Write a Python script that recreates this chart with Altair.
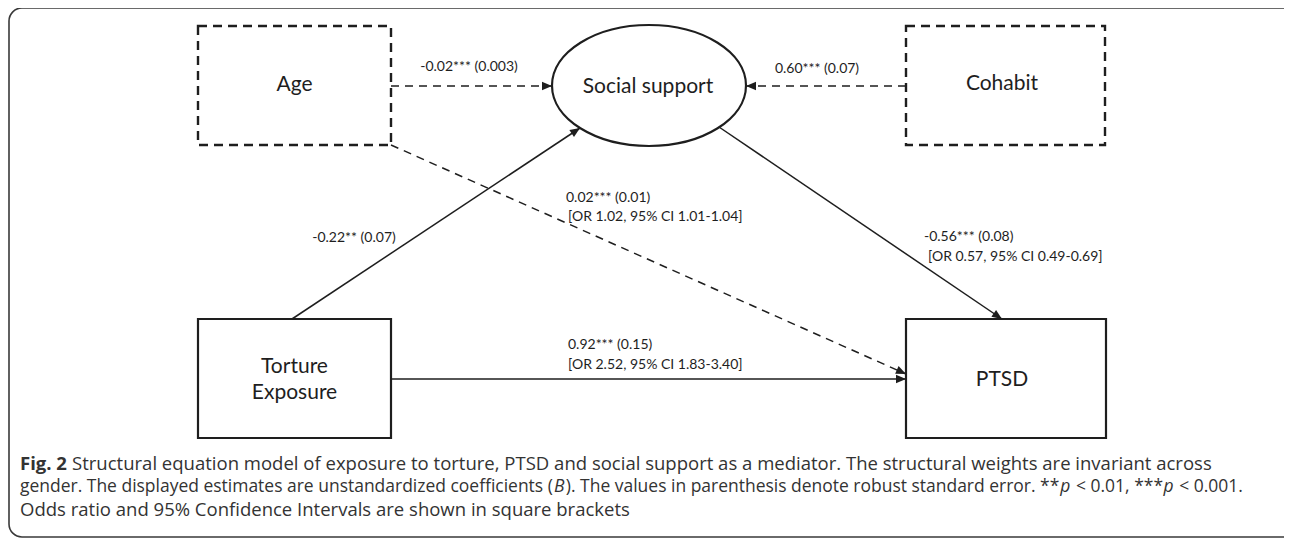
import math
import altair as alt
import pandas as pd

# ---------------- canvas ----------------
W, H = 1276, 530          # plot area (page coords 8..1284, 8..538)
PX0, PY0 = 8, 8
FONT = "Lato"
CAP_FONT = "Open Sans"
INK = "#1e1e1e"

# ---------------- observed variables (rectangles) ----------------
box_name   = ["Age", "Cohabit", "Torture Exposure", "PTSD"]
box_left   = [198, 906, 198, 906]
box_right  = [391, 1105, 391, 1106]
box_top    = [26, 26, 319, 319]
box_bottom = [145, 145, 438, 438]
box_dashed = [True, True, False, False]

# ---------------- latent variable (ellipse) ----------------
latent_name = ["Social support"]
latent_cx = [649]
latent_cy = [85.5]
latent_rx = 97
latent_ry = 60.5

# ---------------- node labels ----------------
node_text   = ["Age", "Social support", "Cohabit", "Torture", "Exposure", "PTSD"]
node_text_x = [294.5, 648, 1002, 294.5, 294.5, 1002]
node_text_y = [85, 87, 84, 367, 393, 380]

# ---------------- paths ----------------
edge_from   = ["Age", "Cohabit", "Torture Exposure", "Social support", "Age", "Torture Exposure"]
edge_to     = ["Social support", "Social support", "Social support", "PTSD", "PTSD", "PTSD"]
edge_x1     = [391, 906, 292, 719, 391, 391]
edge_y1     = [86, 86, 319, 127, 145, 379]
edge_x2     = [552, 746, 580, 1002, 906, 906]
edge_y2     = [86, 86, 128, 319, 374, 379]
edge_dashed = [True, True, False, False, True, False]

# ---------------- path estimates ----------------
coef_text  = ["-0.02*** (0.003)", "0.60*** (0.07)", "-0.22** (0.07)",
              "0.02*** (0.01)", "[OR 1.02, 95% CI 1.01-1.04]",
              "-0.56*** (0.08)", "[OR 0.57, 95% CI 0.49-0.69]",
              "0.92*** (0.15)", "[OR 2.52, 95% CI 1.83-3.40]"]
coef_x     = [469, 817, 354, 566, 568, 924, 928, 568, 568]
coef_y     = [67, 69, 238, 198, 217, 237, 257, 345, 365]
coef_align = ["center", "center", "center", "left", "left", "left", "left", "left", "left"]

# ---------------- caption (runs of text, in reading order) ----------------
cap_line  = [1, 1, 2, 2, 2, 2, 2, 2, 2, 3]
cap_text  = ["Fig. 2",
             "Structural equation model of exposure to torture, PTSD and social support as a mediator. The structural weights are invariant across",
             "gender. The displayed estimates are unstandardized coefficients (", "B",
             "). The values in parenthesis denote robust standard error. **", "p",
             "< 0.01, ***", "p", "< 0.001.",
             "Odds ratio and 95% Confidence Intervals are shown in square brackets"]
cap_style = ["bold", "normal", "normal", "italic", "normal", "italic", "normal", "italic", "normal", "normal"]
cap_space_before = [False, True, False, False, False, False, True, False, True, False]
cap_line_y = {1: 464, 2: 487, 3: 510}
cap_left = 20
cap_line_right = {1: 1213, 2: 1243}

# approximate advance widths of the caption font (units per 2048 em)
ADV = {" ": 532, "(": 606, ")": 606, "*": 1128, ",": 502, "-": 659, ".": 545, "<": 1171,
       "%": 1686, "[": 674, "]": 674,
       "A": 1296, "B": 1327, "C": 1292, "D": 1493, "F": 1057, "I": 571, "O": 1595,
       "P": 1233, "S": 1124, "T": 1116,
       "a": 1139, "b": 1255, "c": 975, "d": 1255, "e": 1149, "f": 694, "g": 1122,
       "h": 1257, "i": 518, "j": 518, "k": 1075, "l": 518, "m": 1905, "n": 1257,
       "o": 1237, "p": 1255, "q": 1255, "r": 836, "s": 977, "t": 723, "u": 1257,
       "v": 1026, "w": 1593, "x": 1073, "y": 1028, "z": 977}
for d in "0123456789":
    ADV[d] = 1171
BOLD_ADV = {"F": 1143, "i": 586, "g": 1139, ".": 584, " ": 532, "2": 1171}
SPACE_EM = ADV[" "] / 2048.0
EXTRA_EM = 0.03   # small breathing room around style changes


def em_width(s, bold=False):
    tab = BOLD_ADV if bold else ADV
    return sum(tab.get(c, ADV.get(c, 1150)) for c in s) / 2048.0


def run_gap(prev_style, style, space_before):
    g = SPACE_EM if space_before else 0.0
    if prev_style is not None and prev_style != style:
        g += EXTRA_EM
    return g


# font size per caption line so that each line spans the width seen in the figure
line_em = {}
prev = {}
for t, s, sp, ln in zip(cap_text, cap_style, cap_space_before, cap_line):
    line_em[ln] = line_em.get(ln, 0.0) + run_gap(prev.get(ln), s, sp) + em_width(t, s == "bold")
    prev[ln] = s
line_size = {ln: (cap_line_right[ln] - cap_left) / line_em[ln] for ln in cap_line_right}
line_size[3] = line_size[1]

cap_x, cap_y, cap_fs = [], [], []
cursor, prev = {}, {}
for t, s, sp, ln in zip(cap_text, cap_style, cap_space_before, cap_line):
    fs = line_size[ln]
    x = cursor.get(ln, cap_left) + run_gap(prev.get(ln), s, sp) * fs
    cap_x.append(x)
    cap_y.append(cap_line_y[ln])
    cap_fs.append(fs)
    cursor[ln] = x + em_width(t, s == "bold") * fs
    prev[ln] = s

# ---------------- scales ----------------
xs = alt.Scale(domain=[PX0, PX0 + W], range=[0, W], zero=False, nice=False)
ys = alt.Scale(domain=[PY0, PY0 + H], range=[0, H], zero=False, nice=False)


def X(f):
    return alt.X(f, type="quantitative", scale=xs, axis=None)


def Y(f):
    return alt.Y(f, type="quantitative", scale=ys, axis=None)


# ---------------- data frames ----------------
frame_df = pd.DataFrame({"x": [9], "x2": [1310], "y": [8], "y2": [537]})

boxes = pd.DataFrame({"name": box_name, "x": box_left, "x2": box_right,
                      "y": box_top, "y2": box_bottom, "dashed": box_dashed})

lat = pd.DataFrame({"name": latent_name, "x": latent_cx, "y": latent_cy})

nodes_t = pd.DataFrame({"t": node_text, "x": node_text_x, "y": node_text_y})

edges = pd.DataFrame({"from": edge_from, "to": edge_to, "x": edge_x1, "y": edge_y1,
                      "x2": edge_x2, "y2": edge_y2, "dashed": edge_dashed})
edges["ang"] = [
    (math.degrees(math.atan2(x2 - x1, -(y2 - y1))) + 360) % 360
    for x1, y1, x2, y2 in zip(edges.x, edges.y, edges.x2, edges.y2)
]

coefs = pd.DataFrame({"t": coef_text, "x": coef_x, "y": coef_y, "align": coef_align})
caps = pd.DataFrame({"t": cap_text, "x": cap_x, "y": cap_y, "fs": cap_fs, "style": cap_style})

# ---------------- layers ----------------
frame = alt.Chart(frame_df).mark_rect(
    fill="white", fillOpacity=0, stroke="#3a3a3a", strokeWidth=1.6, cornerRadius=13
).encode(x=X("x"), x2="x2", y=Y("y"), y2="y2")

box_solid = alt.Chart(boxes).transform_filter("!datum.dashed").mark_rect(
    fill="white", fillOpacity=0, stroke=INK, strokeWidth=2.2
).encode(x=X("x"), x2="x2", y=Y("y"), y2="y2")

box_dash = alt.Chart(boxes).transform_filter("datum.dashed").mark_rect(
    fill="white", fillOpacity=0, stroke=INK, strokeWidth=2.4, strokeDash=[9, 6]
).encode(x=X("x"), x2="x2", y=Y("y"), y2="y2")

ratio = latent_ry / latent_rx
ellipse_path = f"M-1,0A1,{ratio:.4f},0,1,1,1,0A1,{ratio:.4f},0,1,1,-1,0Z"
ellipse = alt.Chart(lat).mark_point(
    shape=ellipse_path, size=(2 * latent_rx) ** 2, filled=False,
    stroke=INK, strokeWidth=2.2, opacity=1
).encode(x=X("x"), y=Y("y"))

edge_solid = alt.Chart(edges).transform_filter("!datum.dashed").mark_rule(
    color=INK, strokeWidth=1.5
).encode(x=X("x"), y=Y("y"), x2="x2", y2="y2")

edge_dash = alt.Chart(edges).transform_filter("datum.dashed").mark_rule(
    color=INK, strokeWidth=1.5, strokeDash=[8, 6]
).encode(x=X("x"), y=Y("y"), x2="x2", y2="y2")

arrow_path = "M0,0L0.42,1L-0.42,1Z"
heads = alt.Chart(edges).mark_point(
    shape=arrow_path, size=400, filled=True, color=INK, opacity=1, strokeWidth=0
).encode(x=X("x2"), y=Y("y2"), angle=alt.Angle("ang:Q", scale=None))

node_lbl = alt.Chart(nodes_t).mark_text(
    font=FONT, fontSize=21, align="center", baseline="middle", color=INK
).encode(x=X("x"), y=Y("y"), text="t:N")

coef_c = alt.Chart(coefs).transform_filter("datum.align == 'center'").mark_text(
    font=FONT, fontSize=14, align="center", baseline="middle", color=INK
).encode(x=X("x"), y=Y("y"), text="t:N")

coef_l = alt.Chart(coefs).transform_filter("datum.align == 'left'").mark_text(
    font=FONT, fontSize=14, align="left", baseline="middle", color=INK
).encode(x=X("x"), y=Y("y"), text="t:N")

CAPC = "#333333"
FS = alt.Size("fs:Q", scale=None, legend=None)
cap_n = alt.Chart(caps).transform_filter("datum.style == 'normal'").mark_text(
    font=CAP_FONT, align="left", baseline="middle", color=CAPC
).encode(x=X("x"), y=Y("y"), text="t:N", size=FS)
cap_b = alt.Chart(caps).transform_filter("datum.style == 'bold'").mark_text(
    font=CAP_FONT, align="left", baseline="middle", color=CAPC, fontWeight="bold"
).encode(x=X("x"), y=Y("y"), text="t:N", size=FS)
cap_i = alt.Chart(caps).transform_filter("datum.style == 'italic'").mark_text(
    font=CAP_FONT, align="left", baseline="middle", color=CAPC, fontStyle="italic"
).encode(x=X("x"), y=Y("y"), text="t:N", size=FS)

chart = alt.layer(
    frame, box_solid, box_dash, ellipse, edge_solid, edge_dash, heads,
    node_lbl, coef_c, coef_l, cap_n, cap_b, cap_i
).properties(
    width=W, height=H, padding=0, autosize=alt.AutoSizeParams(type="none"),
    background="white"
).configure_view(strokeWidth=0)

chart.save("out.html", embed_options={"renderer": "svg", "actions": False})
